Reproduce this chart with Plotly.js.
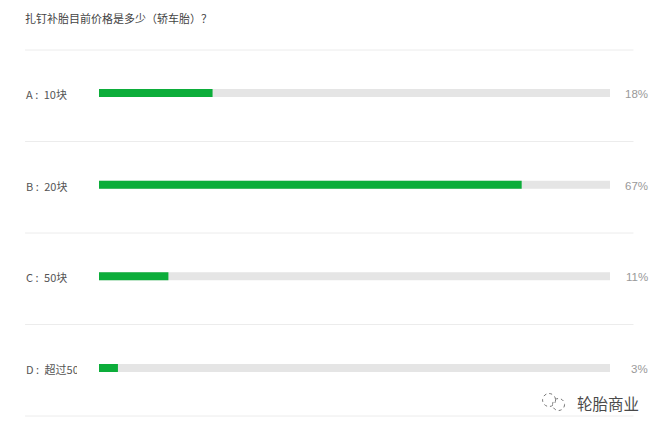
<!DOCTYPE html>
<html>
<head>
<meta charset="utf-8">
<script src="https://cdn.plot.ly/plotly-3.0.1.min.js"></script>
<style>html,body{margin:0;padding:0;background:#fff}</style>
</head>
<body>
<div id="chart" style="width:660px;height:433px"></div>
<script>
const questionTitle = "扎钉补胎目前价格是多少（轿车胎）？";
const categories = ["A :\u200210块", "B :\u200220块", "C :\u200250块", "D :\u2002超过50块"];
const percentages = [18, 67, 11, 3];
const trackValues = [81, 81, 81, 81];
const watermarkText = "轮胎商业";

const fontFamily = '"Noto Sans CJK SC", "Noto Sans", sans-serif';
const keys = categories.map((c, i) => i);

const track = {
  type: "bar", orientation: "h", y: keys, x: trackValues,
  marker: {color: "#e5e5e5", line: {width: 0}}, width: 0.0873, hoverinfo: "skip"
};
const fill = {
  type: "bar", orientation: "h", y: keys, x: percentages,
  marker: {color: "#0cad3a", line: {width: 0}}, width: 0.0873, hoverinfo: "skip"
};

const L = 99, R = 610.5, W = R - L;
const px = v => (v - L) / W;

const separators = [0, 1, 2, 3, 4].map(i => ({
  type: "line", xref: "paper", yref: "paper",
  x0: px(25), x1: px(634), y0: 1 - i / 4, y1: 1 - i / 4,
  line: {color: "#ececec", width: 1}
}));

const iconShapes = [
  {cx: 549.5, cy: 400, r: 6.5},
  {cx: 559, cy: 404.5, r: 6}
].map(c => ({
  type: "circle", xref: "paper", yref: "paper",
  x0: px(c.cx - c.r), x1: px(c.cx + c.r),
  y0: (416 - c.cy - c.r) / 366.5, y1: (416 - c.cy + c.r) / 366.5,
  line: {color: "#777", width: 1, dash: "dot"}
}));

const rowLabels = categories.map((c, i) => ({
  xref: "paper", yref: "y", x: px(25), y: i + 0.01,
  xanchor: "left", yanchor: "middle", text: c, showarrow: false,
  align: "left", width: i === 3 ? 51 : undefined,
  borderpad: 0, font: {family: fontFamily, size: 11, color: "#555"}
}));
const pctLabels = percentages.map((v, i) => ({
  xref: "paper", yref: "y", x: px(650), y: i + 0.01,
  xanchor: "right", yanchor: "middle", text: v + "%", showarrow: false,
  borderpad: 0, font: {family: "Liberation Sans, sans-serif", size: 11.5, color: "#999"}
}));
const watermark = {
  xref: "paper", yref: "paper", x: px(576), y: (416 - 402.5) / 366.5,
  xanchor: "left", yanchor: "middle", text: watermarkText, showarrow: false,
  borderpad: 0, font: {family: fontFamily, size: 15.5, color: "#4a4a4a"}
};

Plotly.newPlot("chart", [track, fill], {
  width: 660, height: 433,
  margin: {l: L, r: 660 - R, t: 49.5, b: 17},
  barmode: "overlay",
  showlegend: false,
  paper_bgcolor: "#fff", plot_bgcolor: "#fff",
  title: {
    text: questionTitle, xref: "container", x: 25 / 660, xanchor: "left",
    yref: "container", y: 1 - 19.5 / 433, yanchor: "middle",
    font: {family: fontFamily, size: 11, color: "#444"}
  },
  xaxis: {range: [0, 81], visible: false, fixedrange: true},
  yaxis: {range: [3.524, -0.47], visible: false, fixedrange: true},
  shapes: separators.concat(iconShapes),
  annotations: rowLabels.concat(pctLabels, [watermark])
}, {displayModeBar: false, staticPlot: true});
</script>
</body>
</html>
